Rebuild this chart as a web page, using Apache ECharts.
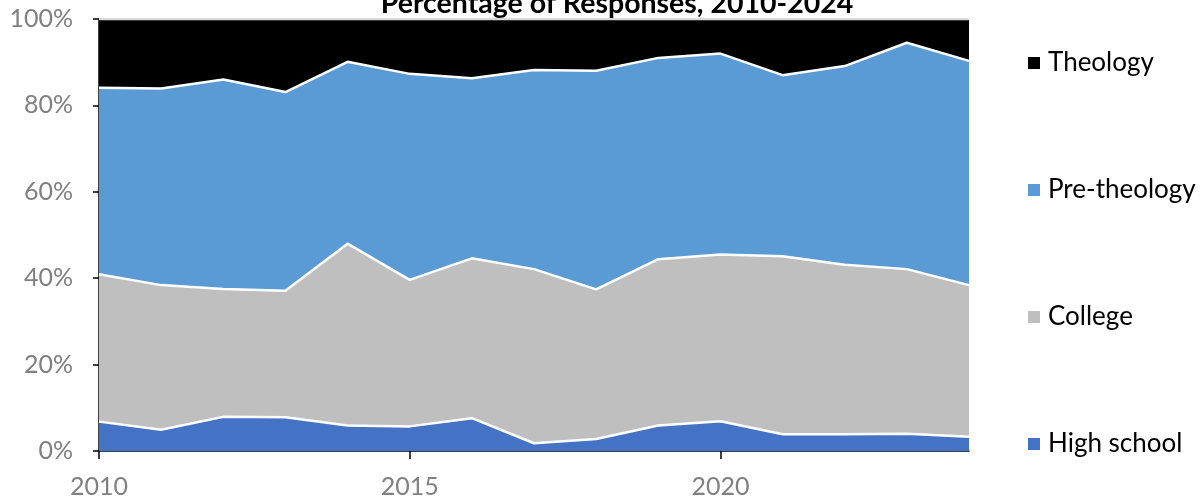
<!DOCTYPE html>
<html>
<head>
<meta charset="utf-8">
<script src="https://cdn.jsdelivr.net/npm/echarts@6/dist/echarts.min.js"></script>
<style>
  html, body { margin: 0; padding: 0; background: #fff; }
  #myChart { width: 1202px; height: 502px; }
</style>
</head>
<body>
<div id="myChart"></div>
<script>
// years on the x axis
const years = ['2010', '2011', '2012', '2013', '2014', '2015', '2016', '2017',
  '2018', '2019', '2020', '2021', '2022', '2023', '2024'];

// share of responses, percent (stacked bottom to top)
const highSchool = [6.8, 4.9, 7.9, 7.8, 5.9, 5.7, 7.6, 1.8, 2.8, 5.9, 6.9, 3.9, 3.9, 4.0, 3.3];
const college = [34.1, 33.5, 29.6, 29.3, 42.1, 33.9, 37.0, 40.3, 34.6, 38.5, 38.6, 41.2, 39.2, 38.1, 35.1];
const preTheology = [43.2, 45.5, 48.5, 46.0, 42.1, 47.7, 41.7, 46.1, 50.6, 46.6, 46.5, 41.9, 46.0, 52.4, 51.9];
const theology = [15.9, 16.1, 14.0, 16.9, 9.9, 12.7, 13.7, 11.8, 12.0, 9.0, 8.0, 13.0, 10.9, 5.5, 9.7];

const yTicks = [0, 20, 40, 60, 80, 100];

const labelFont = 'Lato, "Open Sans", sans-serif';

function areaSeries(name, data, color, lineColor) {
  return {
    name: name,
    type: 'line',
    stack: 'total',
    data: data,
    showSymbol: false,
    symbol: 'none',
    color: color,
    lineStyle: { color: lineColor, width: 2.5 },
    areaStyle: { color: color, opacity: 1 },
  };
}

const option = {
  animation: false,
  title: {
    text: 'Percentage of Responses, 2010-2024',
    left: 612,
    textAlign: 'center',
    top: -16,
    textStyle: {
      fontFamily: labelFont,
      fontSize: 28.5,
      fontWeight: 'bold',
      color: '#000',
    },
  },
  legend: {
    orient: 'vertical',
    left: 1023,
    top: 45,
    itemGap: 101,
    itemWidth: 12,
    itemHeight: 12,
    icon: 'rect',
    data: ['Theology', 'Pre-theology', 'College', 'High school'],
    textStyle: {
      fontFamily: labelFont,
      fontSize: 26,
      lineHeight: 26,
      color: '#000',
      padding: [0, 0, 0, 3],
    },
  },
  grid: {
    left: 99,
    right: 233,
    top: 19,
    bottom: 51,
  },
  xAxis: {
    type: 'category',
    boundaryGap: false,
    data: years,
    axisLine: { show: true, lineStyle: { color: '#000', width: 1.5 } },
    axisTick: { show: true, interval: 4, length: 8, lineStyle: { color: '#000', width: 1.5 } },
    axisLabel: {
      interval: 4,
      margin: 23,
      fontFamily: labelFont,
      fontSize: 25,
      color: '#808080',
    },
    splitLine: { show: false },
  },
  yAxis: {
    type: 'value',
    min: yTicks[0],
    max: yTicks[yTicks.length - 1],
    interval: 20,
    axisLine: { show: true, lineStyle: { color: '#000', width: 1.5 } },
    axisTick: { show: true, length: 6, lineStyle: { color: '#000', width: 1.5 } },
    axisLabel: {
      margin: 26,
      formatter: '{value}%',
      fontFamily: labelFont,
      fontSize: 25,
      color: '#808080',
    },
    splitLine: { show: false },
  },
  series: [
    areaSeries('High school', highSchool, '#4472C4', '#fff'),
    areaSeries('College', college, '#BFBFBF', '#fff'),
    areaSeries('Pre-theology', preTheology, '#5B9BD5', '#fff'),
    areaSeries('Theology', theology, '#000000', '#d9d9d9'),
  ],
};

const myChart = echarts.init(document.getElementById('myChart'));
myChart.setOption(option);
</script>
</body>
</html>
